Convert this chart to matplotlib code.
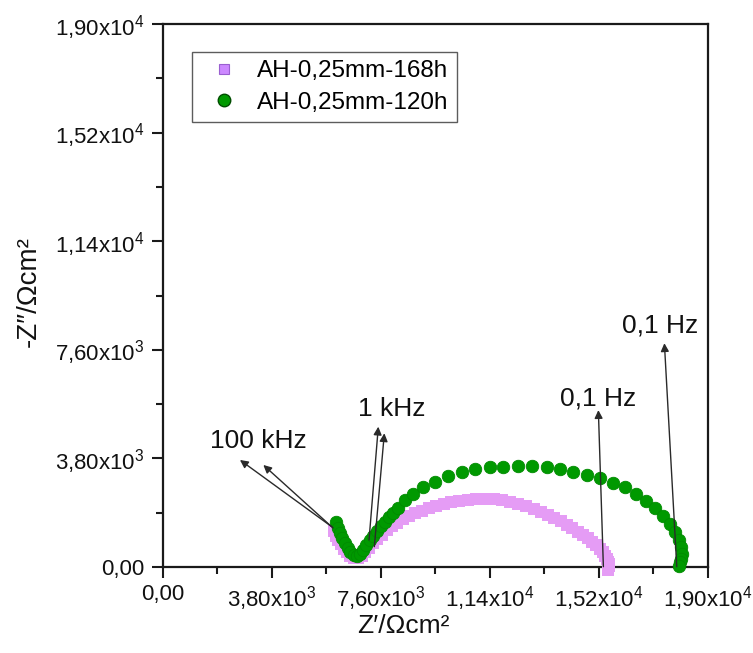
import matplotlib
matplotlib.use("Agg")
import matplotlib.pyplot as plt
from matplotlib.lines import Line2D

plt.rcParams['font.family'] = ['Liberation Sans', 'DejaVu Sans']
plt.rcParams['mathtext.default'] = 'regular'

# Nyquist data, AH-0,25mm-168h (Z', -Z'') in Ohm cm^2
z_re_168 = [5980, 6050, 6130, 6220, 6320, 6430, 6550, 6680, 6810,
            6940, 7070, 7200, 7340, 7490, 7650, 7820, 8000, 8190, 8390,
            8600, 8820, 9050, 9290, 9540, 9800, 10070, 10350, 10640, 10940,
            11240, 11540, 11840, 12130, 12410, 12680, 12940, 13190, 13430,
            13660, 13880, 14090, 14290, 14480, 14660, 14830, 14990, 15130,
            15250, 15350, 15430, 15490, 15530, 15550, 15550, 15545]
z_im_168 = [1250, 1100, 940, 790, 640, 510, 400, 330, 310,
            400, 540, 680, 830, 980, 1130, 1280, 1420, 1550, 1670,
            1780, 1880, 1970, 2060, 2140, 2200, 2260, 2310, 2350, 2380,
            2385, 2370, 2330, 2280, 2210, 2130, 2040, 1940, 1830,
            1720, 1600, 1480, 1360, 1240, 1120, 1000, 880, 760,
            640, 520, 400, 290, 190, 100, 30, -120]

# Nyquist data, AH-0,25mm-120h
z_re_120 = [6040, 6110, 6190, 6270, 6360, 6450, 6550, 6660, 6770,
            6880, 6990, 7100, 7220, 7340, 7470, 7600, 7740, 7890, 8040, 8200,
            8455, 8745, 9093, 9501, 9965, 10430, 10880, 11420, 11880, 12400,
            12870, 13400, 13860, 14320, 14790, 15250, 15720, 16130,
            16500, 16850, 17180, 17460, 17700, 17880, 18010, 18080, 18110,
            18090, 18040, 17990]
z_im_120 = [1560, 1380, 1190, 1010, 830, 670, 530, 420, 370,
            460, 600, 760, 930, 1100, 1270, 1430, 1590, 1750, 1900, 2060,
            2330, 2570, 2800, 2990, 3180, 3310, 3420, 3490, 3515, 3535,
            3530, 3490, 3420, 3335, 3220, 3100, 2955, 2800,
            2570, 2320, 2070, 1800, 1520, 1230, 940, 690, 470,
            290, 160, 40]

series_labels = ['AH-0,25mm-168h', 'AH-0,25mm-120h']

tick_values = [0, 3800, 7600, 11400, 15200, 19000]
tick_labels = ['0,00', '3,80x10$^{3}$', '7,60x10$^{3}$',
               '1,14x10$^{4}$', '1,52x10$^{4}$', '1,90x10$^{4}$']
minor_values = [1900, 5700, 9500, 13300, 17100]

# frequency annotations: (label, text position, [(tail, head), ...])
annotations = [
    ('100 kHz', (3330, 4420), [((5900, 1410), (2700, 3745)),
                               ((5945, 1365), (3515, 3570))]),
    ('1 kHz', (8000, 5540), [((7200, 945), (7524, 4910)),
                             ((7385, 710), (7734, 4680))]),
    ('0,1 Hz', (15170, 5880), [((15370, 10), (15195, 5490))]),
    ('0,1 Hz', (17350, 8440), [((17929, 10), (17497, 7830))]),
]

pink = '#E59CF5'
green = '#009900'

fig = plt.figure(figsize=(7.53, 6.53), dpi=100)
ax = fig.add_axes([162.5 / 753, 86 / 653, 545 / 753, 543 / 653])

ax.plot(z_re_168, z_im_168, ls='none', marker='s', ms=8.6,
        mfc=pink, mec=pink, mew=0, zorder=3, clip_on=False)
ax.plot(z_re_120, z_im_120, ls='none', marker='o', ms=9,
        mfc=green, mec='#008a00', mew=0.6, zorder=3.1, clip_on=False)

for text, (tx, ty), arrows in annotations:
    ax.text(tx, ty, text, fontsize=19, ha='center', va='center', color='#111111')
    for (x0, y0), (x1, y1) in arrows:
        ax.annotate('', xy=(x1, y1), xytext=(x0, y0),
                    arrowprops=dict(arrowstyle='-|>', color='#2a2a2a', lw=1.0,
                                    mutation_scale=12, shrinkA=0, shrinkB=0),
                    zorder=4)

ax.set_xlim(0, 19000)
ax.set_ylim(0, 19000)
ax.set_xticks(tick_values)
ax.set_xticklabels(tick_labels)
ax.set_yticks(tick_values)
ax.set_yticklabels(tick_labels)
ax.set_xticks(minor_values, minor=True)
ax.set_yticks(minor_values, minor=True)

for s in ax.spines.values():
    s.set_linewidth(1.6)
    s.set_color('#1a1a1a')
ax.tick_params(which='major', direction='out', length=8, width=1.5,
               labelsize=16, color='#1a1a1a', labelcolor='#111111', pad=5)
ax.tick_params(which='minor', direction='out', length=5, width=1.5,
               color='#1a1a1a')
ax.tick_params(axis='x', which='major', pad=4)

fig.text(403 / 753, 1 - 626 / 653, 'Z\u2032/\u03a9cm\u00b2', fontsize=19,
         ha='center', va='center', color='#111111')
fig.text(29 / 753, 1 - 292 / 653, '-Z\u2033/\u03a9cm\u00b2', fontsize=20,
         ha='center', va='center', rotation=90, color='#111111')

handles = [
    Line2D([], [], ls='none', marker='s', ms=7.5, mfc='#CC88FF', mec='#9a5fd0', mew=0.8),
    Line2D([], [], ls='none', marker='o', ms=9, mfc=green, mec='#004d00', mew=1.0),
]
leg = ax.legend(handles, series_labels, loc='upper left',
                bbox_to_anchor=((192 - 162.5) / 545, 1 - (52 - 24) / 543),
                borderaxespad=0, fontsize=17.5, frameon=True, fancybox=False,
                handlelength=1.98, handletextpad=0.37, labelspacing=0.39,
                borderpad=0.33)
leg.get_frame().set_edgecolor('#333333')
leg.get_frame().set_linewidth(1.0)

fig.savefig('out.png', dpi=100, facecolor='white')
